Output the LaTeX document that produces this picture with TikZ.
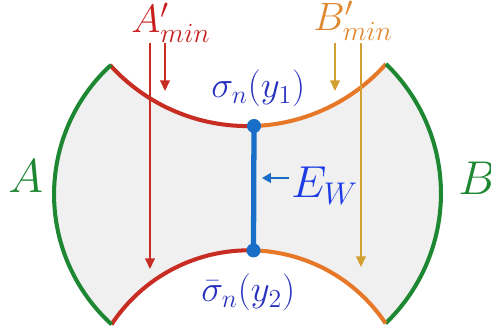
\documentclass[tikz,border=0pt]{standalone}
\usepackage{fix-cm}
\usetikzlibrary{arrows.meta}
\definecolor{fillgray}{RGB}{240,240,240}
\definecolor{cRed}{RGB}{200,45,35}
\definecolor{cOrange}{RGB}{230,120,40}
\definecolor{cGreen}{RGB}{30,135,50}
\definecolor{cLabRed}{RGB}{200,30,30}
\definecolor{cLabOrange}{RGB}{225,135,45}
\definecolor{cGold}{RGB}{210,160,50}
\definecolor{cBlue}{RGB}{25,110,200}
\definecolor{cSigma}{RGB}{40,50,190}
\definecolor{cEW}{RGB}{30,60,230}
\tikzset{
  curveline/.style={line width=2.3pt},
  thinarrow/.style={line width=0.8pt,-{Triangle[length=6pt,width=5.5pt]}},
  biglabel/.style={inner sep=0pt,anchor=base west,font=\fontsize{27}{30}\selectfont},
  midlabel/.style={inner sep=0pt,anchor=base west,font=\fontsize{22.5}{26}\selectfont},
  siglabel/.style={inner sep=0pt,anchor=base west,font=\fontsize{21}{24}\selectfont},
  dotmark/.style={fill=cBlue}
}
\begin{document}
\begin{tikzpicture}[x=0.02cm,y=-0.02cm]
\useasboundingbox (0,0) rectangle (491,333);
% corners and points
\coordinate (TL) at (110,65);
\coordinate (TR) at (386,64);
\coordinate (BR) at (385.6,323.4);
\coordinate (BL) at (111.6,324.4);
\coordinate (y1) at (254,126);
\coordinate (y2) at (253.5,250.4);
% fill
\fill[fillgray] (TL) arc[start angle=137.9, end angle=41.7, radius=185.35]
  arc[start angle=-46, end angle=46.2, radius=180]
  arc[start angle=326.26, end angle=213.33, radius=164.4]
  arc[start angle=132.24, end angle=227.5, radius=175.6] -- cycle;
% boundary strokes
\draw[curveline,cRed] (TL) arc[start angle=137.9, end angle=88, radius=185.35];
\draw[curveline,cOrange] (y1) arc[start angle=88, end angle=41.7, radius=185.35];
\draw[curveline,cGreen] (TR) arc[start angle=-46, end angle=46.2, radius=180];
\draw[curveline,cOrange] (BR) arc[start angle=326.26, end angle=271.6, radius=164.4];
\draw[curveline,cRed] (y2) arc[start angle=271.6, end angle=213.33, radius=164.4];
\draw[curveline,cGreen] (BL) arc[start angle=132.24, end angle=227.5, radius=175.6];
% vertical arrows
\coordinate (ra1) at (150,43); \coordinate (ra2) at (150,269);
\coordinate (rb1) at (165,43); \coordinate (rb2) at (165,91);
\coordinate (ga1) at (361,43); \coordinate (ga2) at (361,267);
\coordinate (gb1) at (335,43); \coordinate (gb2) at (335,91);
\draw[thinarrow,cRed] (ra1) -- (ra2);
\draw[thinarrow,cRed] (rb1) -- (rb2);
\draw[thinarrow,cGold] (ga1) -- (ga2);
\draw[thinarrow,cGold] (gb1) -- (gb2);
% E_W segment
\draw[line width=3pt,cBlue] (y1) -- (y2);
\fill[dotmark] (y1) circle[radius=4pt];
\fill[dotmark] (y2) circle[radius=4pt];
% labels
\node[midlabel,text=cLabRed] (Amin) at (131,33) {$A'_{min}$};
\node[midlabel,text=cLabOrange] (Bmin) at (313,31) {$B'_{min}$};
\node[siglabel,text=cSigma] (s1) at (211,98) {$\sigma_n(y_1)$};
\node[siglabel,text=cSigma] (s2) at (201,302) {$\bar{\sigma}_n(y_2)$};
\node[biglabel,text=cGreen] (A) at (8,193) {$A$};
\node[biglabel,text=cGreen] (B) at (458,195) {$B$};
\node[biglabel,text=cEW,font=\fontsize{25.5}{28}\selectfont] (EW) at (291,198) {$E_W$};
\coordinate (ew1) at (289,178); \coordinate (ew2) at (262,178);
\draw[line width=1pt,cBlue,-{Triangle[length=5pt,width=5.5pt]}] (ew1) -- (ew2);
\end{tikzpicture}
\end{document}
